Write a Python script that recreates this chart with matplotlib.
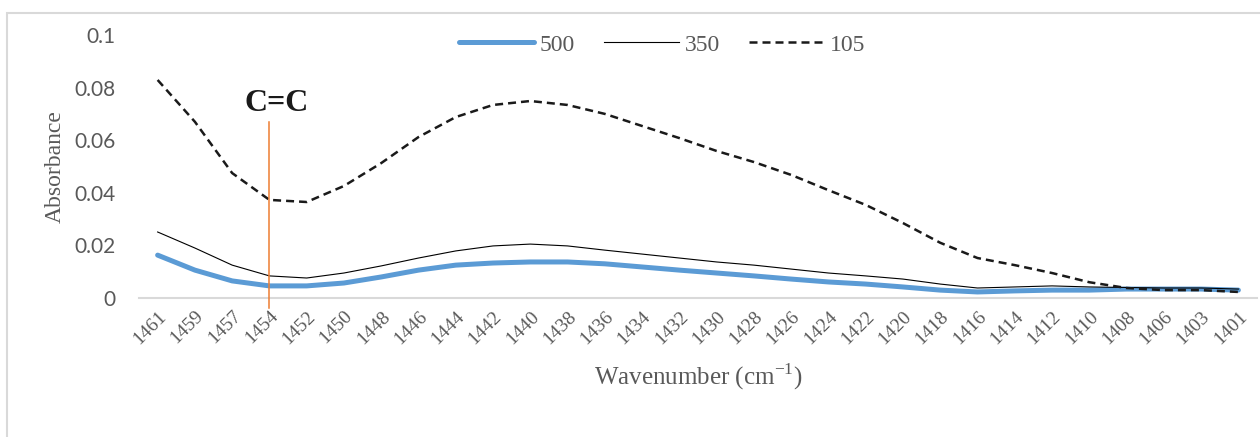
import matplotlib
matplotlib.use("Agg")
import matplotlib.pyplot as plt
from matplotlib.patches import Rectangle

# wavenumber categories (cm-1), plotted as evenly spaced categories
wavenumbers = ["1461", "1459", "1457", "1454", "1452", "1450", "1448", "1446",
               "1444", "1442", "1440", "1438", "1436", "1434", "1432", "1430",
               "1428", "1426", "1424", "1422", "1420", "1418", "1416", "1414",
               "1412", "1410", "1408", "1406", "1403", "1401"]

abs_500 = [0.0163, 0.0106, 0.0065, 0.0046, 0.0046, 0.0057, 0.0080, 0.0106,
           0.0125, 0.0133, 0.0137, 0.0137, 0.0130, 0.0118, 0.0106, 0.0095,
           0.0084, 0.0072, 0.0061, 0.0053, 0.0042, 0.0030, 0.0023, 0.0027,
           0.0030, 0.0030, 0.0034, 0.0034, 0.0034, 0.0030]

abs_350 = [0.0251, 0.0190, 0.0125, 0.0084, 0.0076, 0.0095, 0.0122, 0.0152,
           0.0179, 0.0198, 0.0205, 0.0198, 0.0182, 0.0167, 0.0152, 0.0137,
           0.0125, 0.0110, 0.0095, 0.0084, 0.0072, 0.0053, 0.0038, 0.0042,
           0.0046, 0.0042, 0.0040, 0.0038, 0.0038, 0.0034]

abs_105 = [0.0829, 0.0670, 0.0475, 0.0373, 0.0365, 0.0426, 0.0513, 0.0612,
           0.0688, 0.0734, 0.0749, 0.0734, 0.0700, 0.0654, 0.0608, 0.0559,
           0.0517, 0.0468, 0.0410, 0.0354, 0.0285, 0.0210, 0.0152, 0.0125,
           0.0095, 0.0060, 0.0038, 0.0030, 0.0030, 0.0023]

peak_label = "C=C"
peak_at = "1454"

plt.rcParams['mathtext.fontset'] = 'custom'
plt.rcParams['mathtext.rm'] = 'Liberation Serif'

grey = "#595959"
serif = "Liberation Serif"

fig = plt.figure(figsize=(12.6, 4.37), dpi=100)
ax = fig.add_axes([139 / 1260, 1 - 298 / 437, (1257 - 139) / 1260, (298 - 35) / 437])

x = list(range(len(wavenumbers)))
ax.plot(x, abs_500, color="#5B9BD5", lw=3.6, solid_capstyle="round", label="500", zorder=3)
ax.plot(x, abs_350, color="black", lw=0.8, label="350", zorder=4)
ax.plot(x, abs_105, color="#1a1a1a", lw=1.8, linestyle=(0, (3.2, 2.0)), label="105", zorder=4)

ax.set_xlim(-0.5, len(wavenumbers) - 0.5)
ax.set_ylim(0, 0.1)
ax.set_yticks([0, 0.02, 0.04, 0.06, 0.08, 0.1])
ax.set_yticklabels(["0", "0.02", "0.04", "0.06", "0.08", "0.1"])
ax.set_xticks(x)
ax.set_xticklabels(wavenumbers, rotation=45, ha="right", va="top",
                   rotation_mode="anchor", fontfamily=serif, fontsize=14, color=grey)
ax.tick_params(axis="x", length=0, pad=7)
ax.tick_params(axis="y", length=0, pad=17, labelsize=15, labelcolor=grey)
for t in ax.get_yticklabels():
    t.set_fontfamily("Lato")

for s in ["top", "right", "left"]:
    ax.spines[s].set_visible(False)
ax.spines["bottom"].set_color("#D9D9D9")
ax.spines["bottom"].set_linewidth(1.5)

# marker line for the C=C band
xi = wavenumbers.index(peak_at)
ax.plot([xi, xi], [-0.0038, 0.0669], color="#ED7D31", lw=1.1, clip_on=False, zorder=5)
ax.text(xi + 0.2, 0.0685, peak_label, fontfamily=serif, fontweight="bold",
        fontsize=23, ha="center", va="bottom", color="#1a1a1a")

ax.set_ylabel("Absorbance", fontfamily=serif, fontsize=17, color=grey, labelpad=6)
ax.set_xlabel(r"Wavenumber (cm$^{\mathrm{-1}}$)", fontfamily=serif, fontsize=18,
              color=grey, labelpad=10)

leg = ax.legend(loc="center", bbox_to_anchor=(662 / 1260, 1 - 45 / 437),
                bbox_transform=fig.transFigure, ncol=3, frameon=False,
                handlelength=3.2, handletextpad=0.25, columnspacing=1.2,
                prop={"family": serif, "size": 17})
for t in leg.get_texts():
    t.set_color(grey)

# chart area border
fig.patches.append(Rectangle((7 / 1260, -0.05), 1.2, 1 - 13 / 437 + 0.05,
                             transform=fig.transFigure, fill=False,
                             edgecolor="#D9D9D9", lw=1.5))

fig.savefig("out.png", dpi=100)
